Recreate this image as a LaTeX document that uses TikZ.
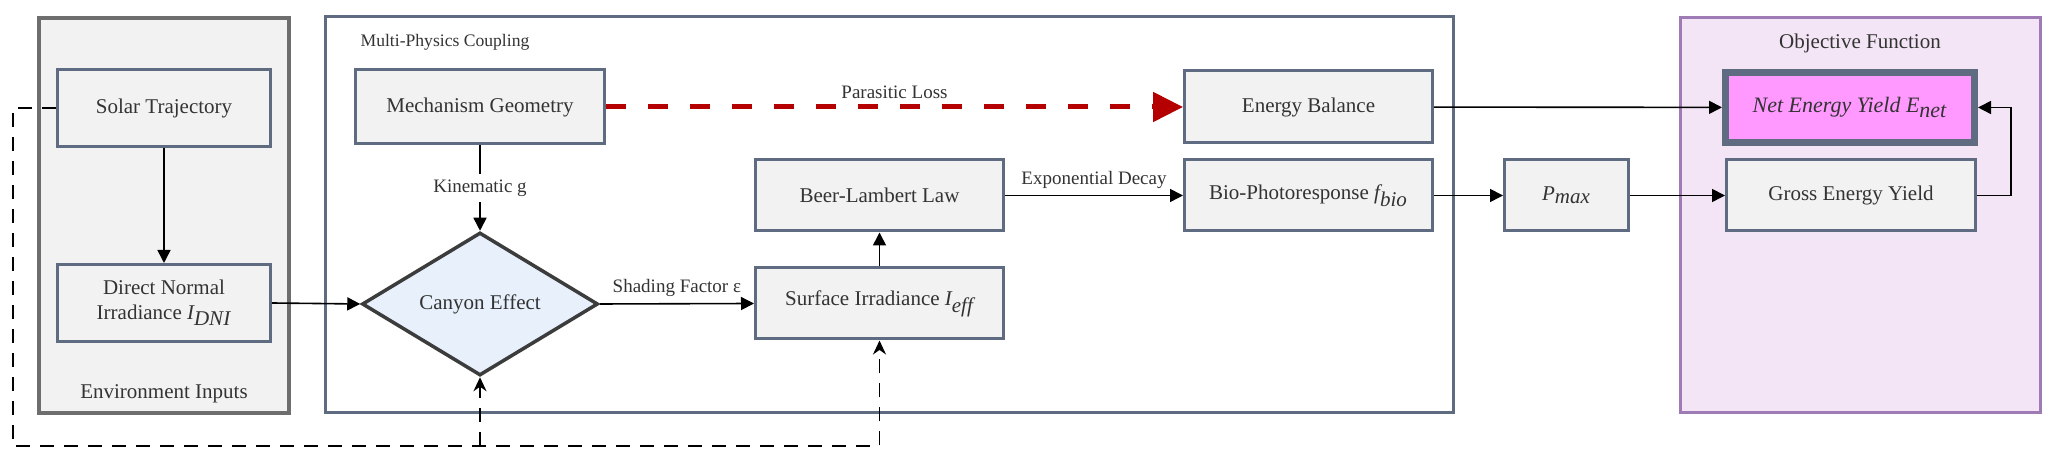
\documentclass[tikz,border=0pt]{standalone}
\usepackage{fontspec}
\setmainfont{Liberation Serif}
\usetikzlibrary{positioning,shapes.geometric,arrows.meta}
\definecolor{slate}{HTML}{5F6B80}
\definecolor{boxgray}{HTML}{F2F2F2}
\definecolor{envgray}{HTML}{6E6E6E}
\definecolor{objpurple}{HTML}{9E7BB5}
\definecolor{objfill}{HTML}{F3E5F5}
\definecolor{netpink}{HTML}{FF99FF}
\definecolor{canyonblue}{HTML}{E7F0FB}
\definecolor{dgray}{HTML}{3C3C3C}
\definecolor{lossred}{HTML}{B40000}
\definecolor{txt}{HTML}{333333}

\begin{document}
\begin{tikzpicture}[x=0.5pt,y=0.5pt,
  blk/.style={draw=slate,line width=1.5pt,fill=boxgray,text=txt,minimum height=35.5pt,inner sep=2pt,align=center,font=\fontsize{10.5}{12.5}\selectfont},
  grp/.style={text=txt,inner sep=1pt,font=\fontsize{10.5}{12.5}\selectfont},
  lbl/.style={text=txt,inner sep=1pt,font=\fontsize{9.5}{11}\selectfont},
  flow/.style={-{Triangle[length=6.5pt,width=6.5pt]},line width=0.8pt},
  dashflow/.style={-{Stealth[length=7pt,width=6.5pt]},line width=0.9pt,dash pattern=on 7pt off 5pt},
  lossflow/.style={-{Triangle[length=15pt,width=14.5pt]},draw=lossred,line width=2.5pt,dash pattern=on 10pt off 11pt}]
\useasboundingbox (0,0) rectangle (2057,459);
\draw[draw=envgray,line width=2pt,fill=boxgray] (39,46) rectangle (289,441);
\draw[draw=slate,line width=1.5pt,fill=white] (325,46) rectangle (1453,442);
\draw[draw=objpurple,line width=1.5pt,fill=objfill] (1680,46) rectangle (2040,441);
\node[grp] (envlbl) at (164,65) {Environment Inputs};
\node[lbl,font=\fontsize{8.8}{10}\selectfont] (mplbl) at (445,417) {Multi-Physics Coupling};
\node[grp] (objlbl) at (1860,416) {Objective Function};

\node[blk,minimum width=106.5pt,minimum height=38.5pt] (solar) at (164,351) {Solar Trajectory};
\node[blk,minimum width=106.5pt,minimum height=38.5pt] (dni) at (164,156) {Direct Normal\\Irradiance $\textit{I}_{\textit{DNI}}$};
\node[blk,minimum width=124.5pt,minimum height=37pt] (mech) at (480,352) {Mechanism Geometry};
\node[diamond,aspect=1.6,draw=dgray,line width=1.75pt,fill=canyonblue,text=txt,minimum width=118pt,minimum height=71.5pt,inner sep=0pt,font=\fontsize{10.5}{12.5}\selectfont] (canyon) at (480,155) {Canyon Effect};
\node[blk,minimum width=124pt] (surf) at (879.5,155.5) {Surface Irradiance $\textit{I}_{\textit{eff}}$};
\node[blk,minimum width=124pt] (beer) at (879.5,263.5) {Beer-Lambert Law};
\node[blk,minimum width=124pt] (bio) at (1308.5,263.5) {Bio-Photoresponse $\textit{f}_{\textit{bio}}$};
\node[blk,minimum width=124pt,minimum height=36pt] (energy) at (1308.5,352) {Energy Balance};
\node[blk,minimum width=62pt] (pmax) at (1566.5,263.5) {$\textit{P}_{\textit{max}}$};
\node[blk,line width=3.5pt,fill=netpink,minimum width=124.5pt,minimum height=35pt,font=\fontsize{11}{13}\selectfont\itshape] (net) at (1850,351.5) {Net Energy Yield $\textit{E}_{\textit{net}}$};
\node[blk,minimum width=124.5pt] (gross) at (1851,263.5) {Gross Energy Yield};

\draw[flow] (solar) -- (dni);
\draw[flow] (dni.east) -- (canyon.west);
\draw[flow] (mech) -- node[lbl,fill=white,inner ysep=3pt] {Kinematic g} (canyon);
\draw[flow] (canyon.east) -- node[lbl,above=2pt] {Shading Factor ε} (surf.west);
\draw[flow] (surf) -- (beer);
\draw[flow] (beer) -- node[lbl,above=2pt] {Exponential Decay} (bio);
\draw[lossflow] (mech) -- node[lbl,above=2pt] {Parasitic Loss} (energy);
\draw[flow] (energy) -- (net);
\draw[flow] (bio) -- (pmax);
\draw[flow] (pmax) -- (gross);
\coordinate (fbturn) at (2011,351.5);
\draw[flow] (gross.east) -| (fbturn) -- (net.east);

\coordinate (lowleft) at (13,13);
\draw[dashflow] (solar.west) -| (lowleft) -| (surf.south);
\draw[dashflow] (canyon.south |- lowleft) -- (canyon.south);
\end{tikzpicture}
\end{document}
